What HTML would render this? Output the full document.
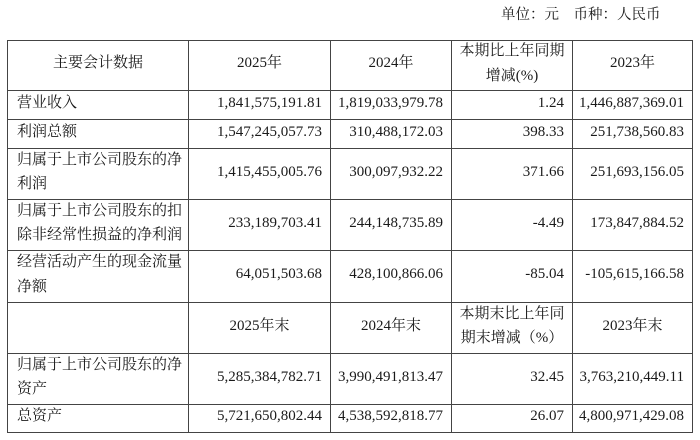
<!DOCTYPE html>
<html>
<head>
<meta charset="utf-8">
<style>
  html, body { margin:0; padding:0; background:#fff; }
  body { width:700px; height:440px; position:relative; overflow:hidden;
    font-family:"Liberation Serif","Noto Serif CJK SC",serif; color:#1a1a1a; font-size:15px; }
  .h { position:absolute; height:1px; background:#444; }
  .v { position:absolute; width:1px; background:#444; }
  .c { position:absolute; display:flex; align-items:center; box-sizing:border-box; line-height:24.5px; padding-bottom:4px; white-space:nowrap; }
  .l { justify-content:flex-start; padding-left:9px; }
  .r { justify-content:flex-end; padding-right:8px; }
  .m { justify-content:center; text-align:center; }
  .unit { position:absolute; left:501px; top:5px; font-size:14.5px; line-height:20px; white-space:nowrap; }
</style>
</head>
<body>
<div class="unit">单位：元　币种：人民币</div>

<!-- horizontal lines -->
<div class="h" style="left:7px;width:686px;top:40px"></div>
<div class="h" style="left:7px;width:686px;top:90px"></div>
<div class="h" style="left:7px;width:686px;top:119px"></div>
<div class="h" style="left:7px;width:686px;top:148px"></div>
<div class="h" style="left:7px;width:686px;top:199px"></div>
<div class="h" style="left:7px;width:686px;top:250px"></div>
<div class="h" style="left:7px;width:686px;top:302px"></div>
<div class="h" style="left:7px;width:686px;top:353px"></div>
<div class="h" style="left:7px;width:686px;top:404px"></div>
<div class="h" style="left:7px;width:686px;top:432px"></div>
<!-- vertical lines -->
<div class="v" style="left:7px;top:40px;height:393px"></div>
<div class="v" style="left:188px;top:40px;height:393px"></div>
<div class="v" style="left:330px;top:40px;height:393px"></div>
<div class="v" style="left:451px;top:40px;height:393px"></div>
<div class="v" style="left:572px;top:40px;height:393px"></div>
<div class="v" style="left:692px;top:40px;height:393px"></div>

<!-- header row -->
<div class="c m" style="left:8px;top:41px;width:180px;height:49px">主要会计数据</div>
<div class="c m" style="left:189px;top:41px;width:141px;height:49px">2025年</div>
<div class="c m" style="left:331px;top:41px;width:120px;height:49px">2024年</div>
<div class="c m" style="left:452px;top:41px;width:120px;height:49px">本期比上年同期<br>增减(%)</div>
<div class="c m" style="left:573px;top:41px;width:119px;height:49px">2023年</div>

<!-- row 1 -->
<div class="c l" style="left:8px;top:91px;width:180px;height:28px">营业收入</div>
<div class="c r" style="left:189px;top:91px;width:141px;height:28px">1,841,575,191.81</div>
<div class="c r" style="left:331px;top:91px;width:120px;height:28px">1,819,033,979.78</div>
<div class="c r" style="left:452px;top:91px;width:120px;height:28px">1.24</div>
<div class="c r" style="left:573px;top:91px;width:119px;height:28px">1,446,887,369.01</div>

<!-- row 2 -->
<div class="c l" style="left:8px;top:120px;width:180px;height:28px">利润总额</div>
<div class="c r" style="left:189px;top:120px;width:141px;height:28px">1,547,245,057.73</div>
<div class="c r" style="left:331px;top:120px;width:120px;height:28px">310,488,172.03</div>
<div class="c r" style="left:452px;top:120px;width:120px;height:28px">398.33</div>
<div class="c r" style="left:573px;top:120px;width:119px;height:28px">251,738,560.83</div>

<!-- row 3 -->
<div class="c l" style="left:8px;top:149px;width:180px;height:50px">归属于上市公司股东的净<br>利润</div>
<div class="c r" style="left:189px;top:149px;width:141px;height:50px">1,415,455,005.76</div>
<div class="c r" style="left:331px;top:149px;width:120px;height:50px">300,097,932.22</div>
<div class="c r" style="left:452px;top:149px;width:120px;height:50px">371.66</div>
<div class="c r" style="left:573px;top:149px;width:119px;height:50px">251,693,156.05</div>

<!-- row 4 -->
<div class="c l" style="left:8px;top:200px;width:180px;height:50px">归属于上市公司股东的扣<br>除非经常性损益的净利润</div>
<div class="c r" style="left:189px;top:200px;width:141px;height:50px">233,189,703.41</div>
<div class="c r" style="left:331px;top:200px;width:120px;height:50px">244,148,735.89</div>
<div class="c r" style="left:452px;top:200px;width:120px;height:50px">-4.49</div>
<div class="c r" style="left:573px;top:200px;width:119px;height:50px">173,847,884.52</div>

<!-- row 5 -->
<div class="c l" style="left:8px;top:251px;width:180px;height:51px">经营活动产生的现金流量<br>净额</div>
<div class="c r" style="left:189px;top:251px;width:141px;height:51px">64,051,503.68</div>
<div class="c r" style="left:331px;top:251px;width:120px;height:51px">428,100,866.06</div>
<div class="c r" style="left:452px;top:251px;width:120px;height:51px">-85.04</div>
<div class="c r" style="left:573px;top:251px;width:119px;height:51px">-105,615,166.58</div>

<!-- header row 2 -->
<div class="c m" style="left:189px;top:303px;width:141px;height:50px">2025年末</div>
<div class="c m" style="left:331px;top:303px;width:120px;height:50px">2024年末</div>
<div class="c m" style="left:452px;top:303px;width:120px;height:50px">本期末比上年同<br>期末增减（%）</div>
<div class="c m" style="left:573px;top:303px;width:119px;height:50px">2023年末</div>

<!-- row 6 -->
<div class="c l" style="left:8px;top:354px;width:180px;height:50px">归属于上市公司股东的净<br>资产</div>
<div class="c r" style="left:189px;top:354px;width:141px;height:50px">5,285,384,782.71</div>
<div class="c r" style="left:331px;top:354px;width:120px;height:50px">3,990,491,813.47</div>
<div class="c r" style="left:452px;top:354px;width:120px;height:50px">32.45</div>
<div class="c r" style="left:573px;top:354px;width:119px;height:50px">3,763,210,449.11</div>

<!-- row 7 -->
<div class="c l" style="left:8px;top:405px;width:180px;height:27px">总资产</div>
<div class="c r" style="left:189px;top:405px;width:141px;height:27px">5,721,650,802.44</div>
<div class="c r" style="left:331px;top:405px;width:120px;height:27px">4,538,592,818.77</div>
<div class="c r" style="left:452px;top:405px;width:120px;height:27px">26.07</div>
<div class="c r" style="left:573px;top:405px;width:119px;height:27px">4,800,971,429.08</div>
</body>
</html>
